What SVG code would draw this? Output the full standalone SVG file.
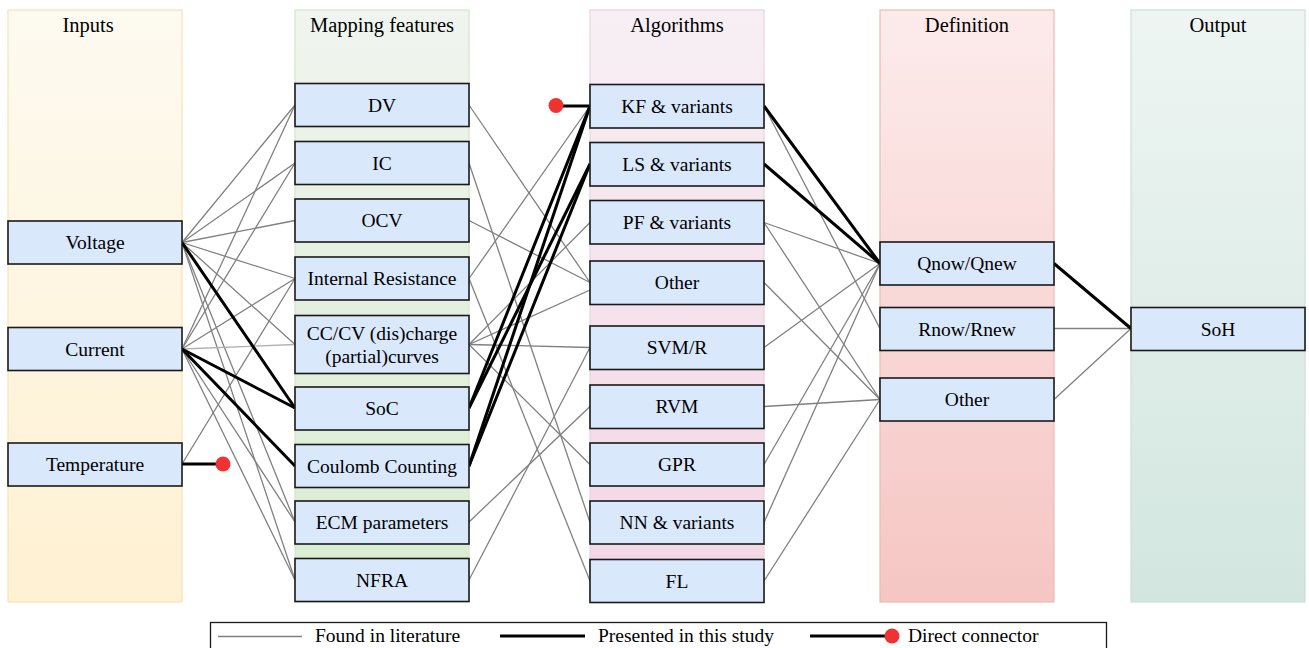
<svg xmlns="http://www.w3.org/2000/svg" width="1309" height="648" viewBox="0 0 1309 648">
<style>
.col{stroke-width:1.2}
.node{fill:#dae8fc;stroke:#1a1a1a;stroke-width:1.6}
.t{font-family:"Liberation Serif","Times New Roman",serif;font-size:19.5px;fill:#000;text-anchor:middle}
.h{font-family:"Liberation Serif","Times New Roman",serif;font-size:20.5px;fill:#000;text-anchor:middle}
.g{stroke:#808080;stroke-width:1.3;fill:none}
.lg{stroke:#b0b0b0;stroke-width:1.3;fill:none}
.b{stroke:#000;stroke-width:3;fill:none}
.dot{fill:#f03232}
</style>
<defs>
<linearGradient id="gIn" x1="0" y1="0" x2="0" y2="1"><stop offset="0" stop-color="#fdfaf0"/><stop offset="1" stop-color="#fff1d2"/></linearGradient>
<linearGradient id="gMap" x1="0" y1="0" x2="0" y2="1"><stop offset="0" stop-color="#f0f5ef"/><stop offset="1" stop-color="#d9ecd0"/></linearGradient>
<linearGradient id="gAlg" x1="0" y1="0" x2="0" y2="1"><stop offset="0" stop-color="#f7eff4"/><stop offset="1" stop-color="#f3d6e4"/></linearGradient>
<linearGradient id="gDef" x1="0" y1="0" x2="0" y2="1"><stop offset="0" stop-color="#fcebeb"/><stop offset="1" stop-color="#f5c6c3"/></linearGradient>
<linearGradient id="gOut" x1="0" y1="0" x2="0" y2="1"><stop offset="0" stop-color="#eef5f2"/><stop offset="1" stop-color="#d2e6df"/></linearGradient>
</defs>
<rect width="1309" height="648" fill="#ffffff"/>
<g id="columns">
<g id="col-inputs"><rect class="col" x="8" y="10" width="174" height="592" fill="url(#gIn)" stroke="#f3e4b6"/><text class="h" x="88" y="32">Inputs</text></g>
<g id="col-mapping"><rect class="col" x="295" y="10" width="174" height="592" fill="url(#gMap)" stroke="#d2e5ca"/><text class="h" x="382" y="32">Mapping features</text></g>
<g id="col-algorithms"><rect class="col" x="590" y="10" width="174" height="592" fill="url(#gAlg)" stroke="#ead2e0"/><text class="h" x="677" y="32">Algorithms</text></g>
<g id="col-definition"><rect class="col" x="880" y="10" width="174" height="592" fill="url(#gDef)" stroke="#ebbab7"/><text class="h" x="967" y="32">Definition</text></g>
<g id="col-output"><rect class="col" x="1131" y="10" width="174" height="592" fill="url(#gOut)" stroke="#cbe0d8"/><text class="h" x="1218" y="32">Output</text></g>
</g>
<g id="connectors">
<!-- inputs to mapping -->
<line class="g" x1="182" y1="242.5" x2="295" y2="105"/>
<line class="g" x1="182" y1="242.5" x2="295" y2="163"/>
<line class="g" x1="182" y1="242.5" x2="295" y2="220.5"/>
<line class="g" x1="182" y1="242.5" x2="295" y2="278.5"/>
<line class="g" x1="182" y1="242.5" x2="295" y2="344.5"/>
<line class="g" x1="182" y1="242.5" x2="295" y2="522"/>
<line class="g" x1="182" y1="242.5" x2="295" y2="580"/>
<line class="g" x1="182" y1="349" x2="295" y2="105"/>
<line class="g" x1="182" y1="349" x2="295" y2="163"/>
<line class="g" x1="182" y1="349" x2="295" y2="278.5"/>
<line class="lg" x1="182" y1="349" x2="295" y2="344.5"/>
<line class="g" x1="182" y1="349" x2="295" y2="522"/>
<line class="g" x1="182" y1="349" x2="295" y2="580"/>
<line class="g" x1="182" y1="464" x2="295" y2="278.5"/>
<!-- mapping to algorithms -->
<line class="g" x1="469" y1="105" x2="590" y2="282.5"/>
<line class="g" x1="469" y1="163" x2="590" y2="522.5"/>
<line class="g" x1="469" y1="220.5" x2="590" y2="282.5"/>
<line class="g" x1="469" y1="278.5" x2="590" y2="106"/>
<line class="g" x1="469" y1="278.5" x2="590" y2="581"/>
<line class="g" x1="469" y1="344.5" x2="590" y2="222.5"/>
<line class="g" x1="469" y1="344.5" x2="590" y2="290"/>
<line class="g" x1="469" y1="344.5" x2="590" y2="347.5"/>
<line class="g" x1="469" y1="344.5" x2="590" y2="464.5"/>
<line class="g" x1="469" y1="522" x2="590" y2="406.5"/>
<line class="g" x1="469" y1="580" x2="590" y2="347.5"/>
<!-- algorithms to definition -->
<line class="g" x1="764" y1="106" x2="880" y2="328.5"/>
<line class="g" x1="764" y1="222.5" x2="880" y2="263.5"/>
<line class="g" x1="764" y1="222.5" x2="880" y2="399.5"/>
<line class="g" x1="764" y1="282.5" x2="880" y2="399.5"/>
<line class="g" x1="764" y1="347.5" x2="880" y2="263.5"/>
<line class="g" x1="764" y1="406.5" x2="880" y2="399.5"/>
<line class="g" x1="764" y1="464.5" x2="880" y2="263.5"/>
<line class="g" x1="764" y1="522.5" x2="880" y2="263.5"/>
<line class="g" x1="764" y1="581" x2="880" y2="399.5"/>
<!-- definition to output -->
<line class="g" x1="1054" y1="328.5" x2="1131" y2="328.5"/>
<line class="g" x1="1054" y1="399.5" x2="1131" y2="328.5"/>
<!-- presented in this study -->
<line class="b" x1="182" y1="242.5" x2="295" y2="408"/>
<line class="b" x1="182" y1="349" x2="295" y2="408"/>
<line class="b" x1="182" y1="349" x2="295" y2="466"/>
<line class="b" x1="469" y1="408" x2="590" y2="106"/>
<line class="b" x1="469" y1="408" x2="590" y2="164"/>
<line class="b" x1="469" y1="466" x2="590" y2="106"/>
<line class="b" x1="469" y1="466" x2="590" y2="164"/>
<line class="b" x1="764" y1="106" x2="880" y2="263.5"/>
<line class="b" x1="764" y1="164" x2="880" y2="263.5"/>
<line class="b" x1="1054" y1="263.5" x2="1131" y2="328.5"/>
<!-- direct connectors -->
<line class="b" x1="182" y1="464" x2="222" y2="464"/>
<circle class="dot" cx="223" cy="464" r="7.5"/>
<line class="b" x1="590" y1="106" x2="557" y2="106"/>
<circle class="dot" cx="556" cy="105.5" r="7.5"/>
</g>
<g id="n-voltage"><rect class="node" x="8" y="221" width="174" height="43"/><text class="t" x="95" y="249">Voltage</text></g>
<g id="n-current"><rect class="node" x="8" y="327.5" width="174" height="43"/><text class="t" x="95" y="355.5">Current</text></g>
<g id="n-temperature"><rect class="node" x="8" y="443" width="174" height="43"/><text class="t" x="95" y="471">Temperature</text></g>
<g id="n-dv"><rect class="node" x="295" y="83.5" width="174" height="43"/><text class="t" x="382" y="111.5">DV</text></g>
<g id="n-ic"><rect class="node" x="295" y="141.5" width="174" height="43"/><text class="t" x="382" y="169.5">IC</text></g>
<g id="n-ocv"><rect class="node" x="295" y="199" width="174" height="43"/><text class="t" x="382" y="227">OCV</text></g>
<g id="n-ir"><rect class="node" x="295" y="257" width="174" height="43"/><text class="t" x="382" y="285">Internal Resistance</text></g>
<g id="n-cccv"><rect class="node" x="295" y="315.5" width="174" height="58"/><text class="t" x="382" y="340">CC/CV (dis)charge</text><text class="t" x="382" y="363">(partial)curves</text></g>
<g id="n-soc"><rect class="node" x="295" y="387" width="174" height="43"/><text class="t" x="382" y="415">SoC</text></g>
<g id="n-coulomb"><rect class="node" x="295" y="444.5" width="174" height="43"/><text class="t" x="382" y="472.5">Coulomb Counting</text></g>
<g id="n-ecm"><rect class="node" x="295" y="501" width="174" height="43"/><text class="t" x="382" y="529">ECM parameters</text></g>
<g id="n-nfra"><rect class="node" x="295" y="558.5" width="174" height="43"/><text class="t" x="382" y="586.5">NFRA</text></g>
<g id="n-kf"><rect class="node" x="590" y="84.5" width="174" height="43.5"/><text class="t" x="677" y="113">KF &amp; variants</text></g>
<g id="n-ls"><rect class="node" x="590" y="142.5" width="174" height="43.5"/><text class="t" x="677" y="171">LS &amp; variants</text></g>
<g id="n-pf"><rect class="node" x="590" y="200.5" width="174" height="43.5"/><text class="t" x="677" y="229">PF &amp; variants</text></g>
<g id="n-other-alg"><rect class="node" x="590" y="261" width="174" height="43.5"/><text class="t" x="677" y="289">Other</text></g>
<g id="n-svm"><rect class="node" x="590" y="326" width="174" height="43.5"/><text class="t" x="677" y="354">SVM/R</text></g>
<g id="n-rvm"><rect class="node" x="590" y="385" width="174" height="43.5"/><text class="t" x="677" y="413">RVM</text></g>
<g id="n-gpr"><rect class="node" x="590" y="443" width="174" height="43"/><text class="t" x="677" y="471">GPR</text></g>
<g id="n-nn"><rect class="node" x="590" y="501" width="174" height="43"/><text class="t" x="677" y="529">NN &amp; variants</text></g>
<g id="n-fl"><rect class="node" x="590" y="559.5" width="174" height="43"/><text class="t" x="677" y="587.5">FL</text></g>
<g id="n-qnow"><rect class="node" x="880" y="242" width="174" height="43"/><text class="t" x="967" y="270">Qnow/Qnew</text></g>
<g id="n-rnow"><rect class="node" x="880" y="307.5" width="174" height="43"/><text class="t" x="967" y="335.5">Rnow/Rnew</text></g>
<g id="n-other-def"><rect class="node" x="880" y="378" width="174" height="43"/><text class="t" x="967" y="406">Other</text></g>
<g id="n-soh"><rect class="node" x="1131" y="307.5" width="174" height="43"/><text class="t" x="1218" y="335.5">SoH</text></g>
<g id="legend">
<rect x="210.5" y="622.5" width="896" height="30" fill="#ffffff" stroke="#1a1a1a" stroke-width="1.3"/>
<line class="g" x1="218" y1="636.5" x2="302" y2="636.5"/>
<text class="t" x="315" y="642" style="text-anchor:start">Found in literature</text>
<line class="b" x1="500" y1="636" x2="585" y2="636"/>
<text class="t" x="598" y="642" style="text-anchor:start">Presented in this study</text>
<line class="b" x1="810" y1="636" x2="888" y2="636"/>
<circle class="dot" cx="892" cy="636" r="7.5"/>
<text class="t" x="908" y="642" style="text-anchor:start">Direct connector</text>
</g>
</svg>
